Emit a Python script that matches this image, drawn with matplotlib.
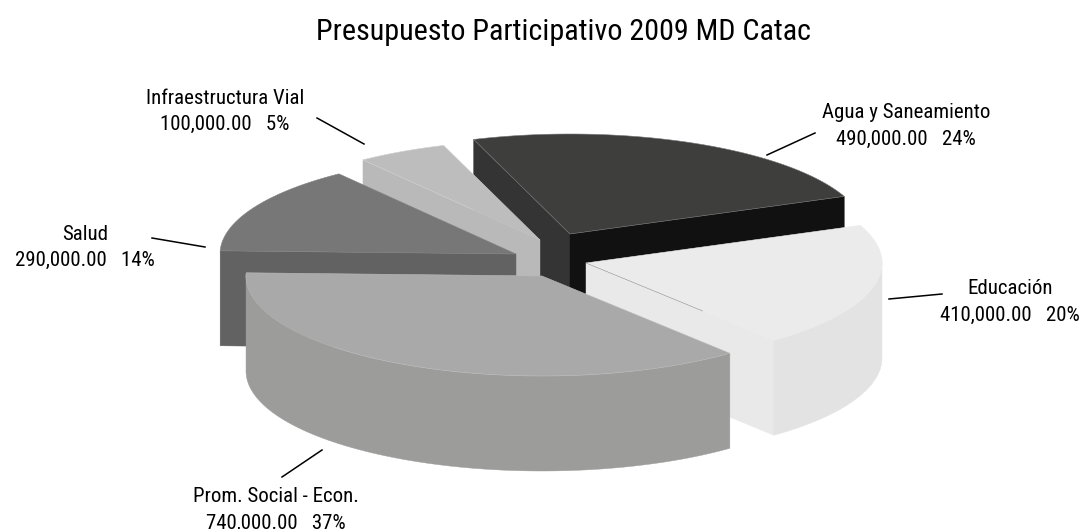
import numpy as np
import matplotlib
matplotlib.use('Agg')
import matplotlib.pyplot as plt

# datos
categorias = ['Agua y Saneamiento', 'Educación', 'Prom. Social - Econ.', 'Salud', 'Infraestructura Vial']
montos = [490000, 410000, 740000, 290000, 100000]
montos_txt = ['490,000.00', '410,000.00', '740,000.00', '290,000.00', '100,000.00']
porcentajes = ['24%', '20%', '37%', '14%', '5%']
titulo = 'Presupuesto Participativo 2009 MD Catac'

# geometria de la torta (pixeles)
cx, cy = 550, 260
rx, ry = 296, 100
alto = 95
inicio = 109
sep_x = [20, 36, -8, -34, -10]
sep_y = [-26, 3, 16, -6, -20]

# colores: tapa, pared curva, pared radial inicial, pared radial final
c_tapa = ['#3e3e3d', '#ebebeb', '#a9a9a9', '#777777', '#bdbdbd']
c_curva = [None, '#e3e3e3', '#9c9c9b', None, None]
c_ini = ['#343434', None, None, '#626262', '#b9b9b9']
c_fin = ['#111111', '#e9e9e9', None, None, None]
c_borde = ['#777777', '#ebebeb', '#bbbbbb', '#858585', '#d0d0d0']

plt.rcParams['font.family'] = ['Roboto Condensed', 'Liberation Sans']
fig = plt.figure(figsize=(10.85, 5.29), dpi=100)
ax = fig.add_axes([0, 0, 1, 1])
ax.set_xlim(0, 1085)
ax.set_ylim(529, 0)
ax.axis('off')


def punto(ax0, ay0, t):
    return ax0 + rx * np.cos(t), ay0 - ry * np.sin(t)


def pared(xs, ys, color):
    px = np.concatenate([xs, xs[::-1]])
    py = np.concatenate([ys, ys[::-1] + alto])
    ax.fill(px, py, color=color, lw=0.3)


fracs = np.array(montos) / sum(montos)
fin_ang = inicio - np.cumsum(fracs) * 360
ini_ang = fin_ang + fracs * 360

# orden de dibujo: de atras hacia adelante
for i in [0, 4, 3, 1, 2]:
    a0 = cx + sep_x[i]
    b0 = cy + sep_y[i]
    t = np.radians(np.linspace(ini_ang[i], fin_ang[i], 120))
    xa, ya = punto(a0, b0, t)
    if c_ini[i]:
        pared(np.array([a0, xa[0]]), np.array([b0, ya[0]]), c_ini[i])
    if c_fin[i]:
        pared(np.array([a0, xa[-1]]), np.array([b0, ya[-1]]), c_fin[i])
    if c_curva[i]:
        frente = np.sin(t) <= 0.02
        pared(xa[frente], ya[frente], c_curva[i])
    ax.fill(np.r_[a0, xa], np.r_[b0, ya], facecolor=c_tapa[i], edgecolor=c_borde[i], lw=0.4)
    if i == 1:
        # rayita oscura sobre el borde de la tapa
        ax.plot([a0, a0 + 0.62 * (xa[-1] - a0)], [b0, b0 + 0.62 * (ya[-1] - b0)], color='#999999', lw=0.4)

# lineas guia
guias = [((767, 815), (155, 133)), ((889, 942), (299, 294)), ((282, 322), (477, 450)),
         ((152, 205), (238, 247)), ((317, 364), (118, 144))]
for gx, gy in guias:
    ax.plot(gx, gy, color='black', lw=1.1)

# etiquetas
pos_x = [906, 1010, 276, 85, 225]
pos_y = [113, 289, 497, 234, 98]
for i in range(5):
    ax.text(pos_x[i], pos_y[i], categorias[i], ha='center', va='center', fontsize=15)
    ax.text(pos_x[i], pos_y[i] + 26, montos_txt[i] + '   ' + porcentajes[i], ha='center', va='center', fontsize=15)

ax.text(563, 32, titulo, ha='center', va='center', fontsize=21.7)
fig.savefig('out.png', dpi=100)
